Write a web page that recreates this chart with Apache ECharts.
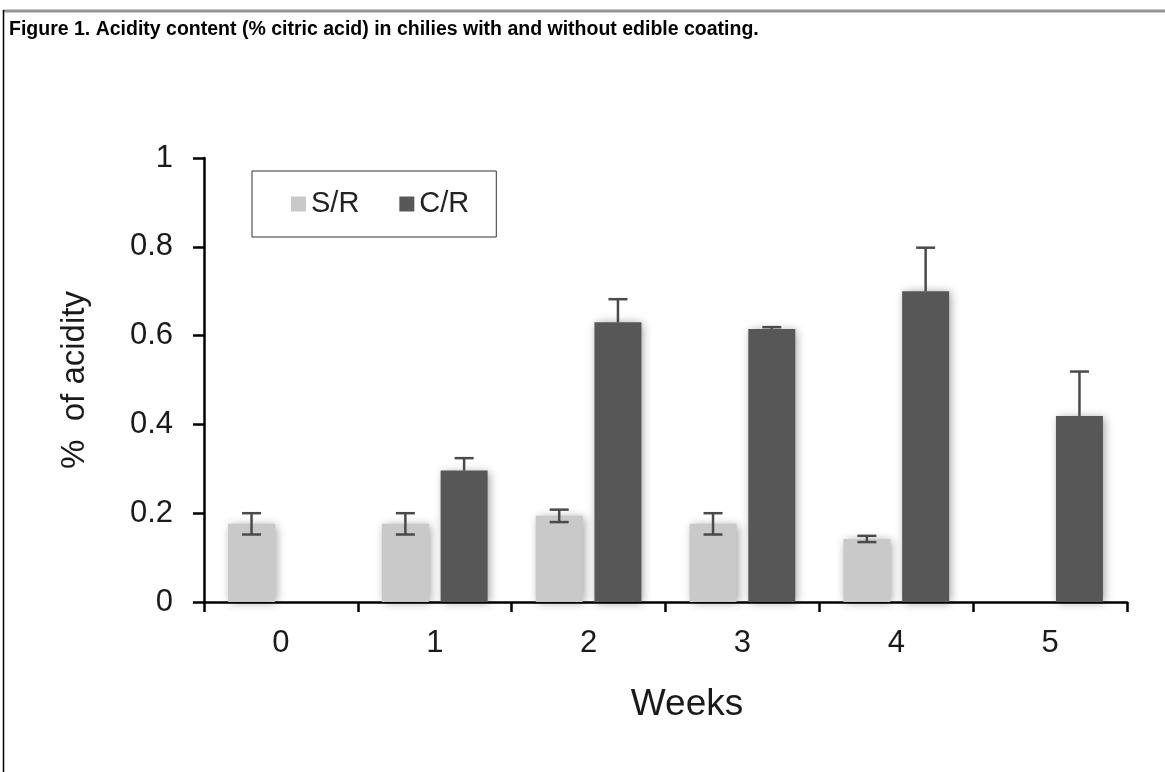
<!DOCTYPE html>
<html>
<head>
<meta charset="utf-8">
<script src="https://cdn.jsdelivr.net/npm/echarts@6/dist/echarts.min.js"></script>
<style>
  html, body { margin: 0; padding: 0; background: #ffffff; }
  #chart { width: 1165px; height: 772px; }
</style>
</head>
<body>
<div id="chart"></div>
<script>
// Weeks of storage
const weeks = ['0', '1', '2', '3', '4', '5'];
// Mean acidity (% citric acid) per week; null = not measured
const srValues = [0.176, 0.176, 0.194, 0.176, 0.142, null];
const crValues = [null, 0.296, 0.630, 0.615, 0.700, 0.419];
// Standard error for each mean
const srErrors = [0.024, 0.024, 0.014, 0.024, 0.007, null];
const crErrors = [null, 0.028, 0.052, 0.004, 0.098, 0.100];
// Y axis ticks
const yMin = 0, yMax = 1, yStep = 0.2;

const FONT = '"Liberation Sans", Arial, sans-serif';
const BAR_W = 47;
const BAR_GAP = 0.25;
const SHIFT = (BAR_W + BAR_W * BAR_GAP) / 2;

function errorSeries(name, values, errors, side, showLower) {
  const data = values.map((v, i) => (v == null ? null : [i, v, errors[i]]));
  return {
    name: name + ' error',
    type: 'custom',
    z: 10,
    silent: true,
    renderItem: function (params, api) {
      const i = api.value(0);
      const mean = api.value(1);
      const err = api.value(2);
      const top = api.coord([i, mean + err]);
      const mid = api.coord([i, mean]);
      const bot = api.coord([i, mean - err]);
      const x = top[0] + side * SHIFT;
      const half = 9.5;
      const style = { stroke: '#4a4a4a', lineWidth: 2.5 };
      const children = [
        { type: 'line', shape: { x1: x, y1: top[1], x2: x, y2: showLower ? bot[1] : mid[1] }, style },
        { type: 'line', shape: { x1: x - half, y1: top[1], x2: x + half, y2: top[1] }, style }
      ];
      if (showLower) {
        children.push({ type: 'line', shape: { x1: x - half, y1: bot[1], x2: x + half, y2: bot[1] }, style });
      }
      return { type: 'group', children };
    },
    encode: { x: 0, y: 1 },
    data: data.filter(d => d !== null)
  };
}

const chart = echarts.init(document.getElementById('chart'), null, { renderer: 'canvas' });

const barShadow = {
  shadowBlur: 9,
  shadowColor: 'rgba(0,0,0,0.38)',
  shadowOffsetX: 2,
  shadowOffsetY: 1
};

chart.setOption({
  animation: false,
  backgroundColor: '#ffffff',
  title: {
    text: 'Figure 1. Acidity content (% citric acid) in chilies with and without edible coating.',
    left: 9,
    top: 20,
    padding: 0,
    textStyle: { fontFamily: FONT, fontSize: 19.5, fontWeight: 'bold', color: '#000000' }
  },
  graphic: [
    { type: 'line', shape: { x1: 3, y1: 11, x2: 1165, y2: 11 }, style: { stroke: '#959595', lineWidth: 3 } },
    { type: 'line', shape: { x1: 3.5, y1: 10, x2: 3.5, y2: 772 }, style: { stroke: '#000000', lineWidth: 1.5 } }
  ],
  legend: {
    left: 252,
    top: 171,
    orient: 'horizontal',
    data: ['S/R', 'C/R'],
    icon: 'rect',
    itemWidth: 15,
    itemHeight: 15,
    itemGap: 40,
    borderColor: '#333333',
    borderWidth: 1,
    backgroundColor: '#ffffff',
    padding: [18, 27, 18, 39],
    itemStyle: { shadowBlur: 0, shadowOffsetX: 0, shadowOffsetY: 0 },
    textStyle: { fontFamily: FONT, fontSize: 29, color: '#222222', lineHeight: 30 }
  },
  grid: { left: 204, right: 38, top: 158, bottom: 170, containLabel: false },
  xAxis: {
    type: 'category',
    data: weeks,
    name: 'Weeks',
    nameLocation: 'middle',
    nameGap: 84,
    nameTextStyle: { fontFamily: FONT, fontSize: 37, color: '#1a1a1a', padding: [0, 0, 0, 43] },
    axisLine: { lineStyle: { color: '#000000', width: 2.5 } },
    axisTick: { show: true, alignWithLabel: false, length: 10, lineStyle: { color: '#000000', width: 2.5 } },
    axisLabel: { fontFamily: FONT, fontSize: 31, color: '#1a1a1a', margin: 26 },
    splitLine: { show: false }
  },
  yAxis: {
    type: 'value',
    min: yMin,
    max: yMax,
    interval: yStep,
    name: '%  of acidity',
    nameLocation: 'middle',
    nameGap: 113,
    nameTextStyle: { fontFamily: FONT, fontSize: 33, color: '#1a1a1a' },
    axisLine: { show: true, lineStyle: { color: '#000000', width: 2.5 } },
    axisTick: { show: true, length: 11, lineStyle: { color: '#000000', width: 2.5 } },
    axisLabel: { fontFamily: FONT, fontSize: 31, color: '#1a1a1a', margin: 31 },
    splitLine: { show: false }
  },
  series: [
    {
      name: 'S/R',
      type: 'bar',
      data: srValues.map(v => (v == null ? '-' : v)),
      barWidth: BAR_W,
      barGap: (BAR_GAP * 100) + '%',
      itemStyle: Object.assign({ color: '#c9c9c9' }, barShadow)
    },
    {
      name: 'C/R',
      type: 'bar',
      data: crValues.map(v => (v == null ? '-' : v)),
      barWidth: BAR_W,
      barGap: (BAR_GAP * 100) + '%',
      itemStyle: Object.assign({ color: '#575757' }, barShadow)
    },
    errorSeries('S/R', srValues, srErrors, -1, true),
    errorSeries('C/R', crValues, crErrors, 1, false)
  ]
});
</script>
</body>
</html>
